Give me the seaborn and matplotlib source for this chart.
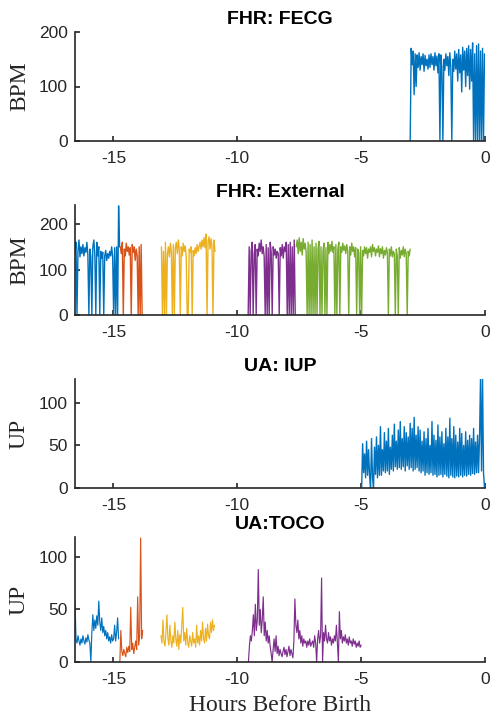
import numpy as np
import matplotlib
matplotlib.use("Agg")
import matplotlib.pyplot as plt
import seaborn as sns

# ---- time spans (hours before birth) and sampled values ----
hour_ticks = [-15, -10, -5, 0]
hour_limits = (-16.55, 0.0)

# FHR from fetal ECG
fecg_hours = (-3.02, -0.02)
fecg_bpm = [0, 170, 140, 165, 85, 160, 100, 158, 135, 162,
            130, 155, 140, 160, 128, 157, 138, 150, 132, 158,
            135, 160, 140, 155, 130, 162, 138, 156, 125, 160,
            0, 158, 135, 0, 150, 130, 160, 138, 155, 120,
            162, 135, 0, 150, 128, 165, 132, 160, 110, 168,
            125, 158, 90, 172, 130, 165, 100, 170, 120, 175,
            95, 168, 110, 180, 0, 160, 0, 175, 0, 178,
            0, 165, 0, 170, 0, 160]

# FHR from external transducer, five recording blocks
ext_hours_1 = (-16.55, -14.75)
ext_bpm_1 = [135, 160, 0, 140, 165, 128, 150, 135, 155, 130,
             148, 138, 160, 132, 0, 145, 128, 0, 150, 165,
             135, 0, 160, 130, 150, 0, 140, 125, 138, 0,
             130, 142, 120, 135, 125, 140, 130, 150, 128, 0,
             148, 0, 150, 0, 240, 150]
ext_hours_2 = (-14.72, -13.84)
ext_bpm_2 = [150, 135, 160, 0, 145, 130, 158, 140, 150, 132,
             148, 0, 155, 138, 150, 120, 145, 130, 0, 150,
             0, 155, 0]
ext_hours_3 = (-13.06, -10.90)
ext_bpm_3 = [150, 0, 140, 0, 160, 0, 135, 150, 128, 158,
             140, 0, 155, 0, 148, 160, 135, 165, 145, 0,
             150, 130, 158, 140, 152, 128, 0, 0, 145, 138,
             150, 0, 142, 130, 148, 135, 155, 140, 150, 160,
             145, 165, 150, 170, 148, 178, 0, 160, 172, 145,
             168, 150, 0, 165, 140]
ext_hours_4 = (-9.56, -7.66)
ext_bpm_4 = [0, 150, 0, 140, 160, 0, 135, 155, 0, 145,
             130, 158, 140, 165, 135, 150, 128, 0, 155, 0,
             148, 0, 160, 138, 0, 150, 132, 145, 125, 140,
             135, 0, 148, 130, 155, 125, 150, 140, 160, 0,
             155, 0, 160, 0, 150, 0, 165, 0]
ext_hours_5 = (-7.62, -3.02)
ext_bpm_5 = [150, 165, 135, 170, 140, 160, 132, 168, 145, 158,
             138, 0, 160, 0, 155, 0, 165, 0, 150, 0,
             158, 0, 145, 162, 0, 150, 0, 140, 158, 0,
             148, 0, 160, 135, 155, 140, 162, 138, 150, 0,
             155, 0, 145, 160, 0, 150, 138, 158, 142, 152,
             135, 155, 140, 0, 150, 132, 158, 140, 150, 128,
             148, 0, 145, 138, 0, 150, 0, 142, 130, 150,
             135, 148, 125, 145, 138, 150, 128, 155, 140, 148,
             130, 145, 138, 152, 128, 146, 135, 150, 125, 142,
             132, 148, 138, 0, 145, 130, 150, 128, 140, 135,
             0, 145, 130, 0, 148, 125, 142, 132, 150, 128,
             145, 135, 0, 140, 130, 145]

# Uterine activity from intrauterine pressure catheter
iup_hours = (-4.98, -0.02)
iup_up = [0, 52, 18, 40, 12, 55, 15, 45, 14, 0,
          58, 12, 0, 48, 16, 60, 12, 50, 15, 72,
          15, 45, 20, 65, 18, 55, 20, 70, 16, 48,
          22, 62, 20, 75, 25, 55, 22, 68, 24, 78,
          22, 58, 25, 72, 20, 65, 26, 60, 22, 76,
          24, 70, 20, 83, 22, 62, 24, 72, 20, 68,
          18, 55, 20, 66, 15, 58, 18, 70, 16, 50,
          18, 78, 15, 62, 16, 56, 13, 74, 15, 60,
          16, 66, 13, 52, 16, 70, 14, 60, 12, 82,
          15, 58, 13, 72, 12, 62, 14, 54, 13, 70,
          15, 64, 13, 50, 15, 66, 14, 56, 16, 62,
          15, 58, 17, 70, 16, 54, 18, 62, 18, 60,
          130, 20, 130, 18, 0]

# Uterine activity from tocodynamometer, four recording blocks
toco_hours_1 = (-16.55, -14.79)
toco_up_1 = [58, 22, 18, 25, 20, 16, 22, 18, 25, 20,
             17, 23, 19, 26, 21, 18, 0, 28, 45, 30,
             40, 32, 44, 35, 58, 38, 30, 42, 28, 34,
             25, 30, 22, 28, 20, 24, 18, 26, 20, 22,
             35, 20, 28, 42, 22]
toco_hours_2 = (-14.74, -13.82)
toco_up_2 = [0, 30, 10, 6, 12, 8, 5, 14, 9, 15,
             10, 52, 12, 18, 8, 14, 20, 12, 62, 16,
             25, 118, 22, 30]
toco_hours_3 = (-13.08, -10.92)
toco_up_3 = [25, 18, 40, 20, 15, 28, 45, 22, 16, 35,
             20, 14, 25, 18, 38, 22, 15, 30, 12, 26,
             18, 35, 52, 20, 28, 16, 32, 18, 14, 25,
             20, 15, 28, 18, 22, 14, 35, 18, 25, 16,
             30, 20, 38, 22, 18, 32, 20, 36, 25, 22,
             38, 28, 40, 30, 35]
toco_hours_4 = (-9.55, -5.0)
toco_up_4 = [0, 15, 25, 20, 30, 45, 25, 55, 30, 40,
             88, 35, 50, 28, 40, 62, 25, 38, 20, 30,
             18, 25, 15, 8, 0, 12, 22, 10, 25, 8,
             15, 6, 12, 8, 5, 10, 14, 7, 12, 5,
             10, 15, 6, 12, 8, 4, 20, 60, 35, 28,
             40, 22, 30, 18, 25, 15, 22, 18, 20, 14,
             20, 16, 22, 15, 18, 20, 14, 25, 18, 0,
             22, 30, 18, 25, 80, 0, 28, 20, 35, 22,
             18, 28, 20, 24, 16, 22, 18, 25, 20, 35,
             18, 0, 48, 22, 30, 18, 24, 20, 26, 18,
             22, 16, 24, 18, 20, 15, 22, 17, 20, 14,
             18, 15, 20, 14, 16]

block_colors = ["#0072BD", "#D95319", "#EDB120", "#7E2F8E", "#77AC30"]

# ---- styling ----
sns.set_style("ticks")
ink = "#262626"
plt.rcParams.update({
    "font.family": ["Liberation Sans", "DejaVu Sans"],
    "axes.edgecolor": ink,
    "axes.linewidth": 1.2,
    "xtick.color": ink,
    "ytick.color": ink,
    "xtick.direction": "in",
    "ytick.direction": "in",
    "xtick.major.size": 3.5,
    "ytick.major.size": 3.5,
    "xtick.major.width": 1.2,
    "ytick.major.width": 1.2,
    "xtick.labelsize": 12.5,
    "ytick.labelsize": 12.5,
    "xtick.major.pad": 7,
    "ytick.major.pad": 5,
})

fig = plt.figure(figsize=(4.9, 7.19), dpi=100)
left, width = 75 / 490, 410 / 490
panel_rects = [
    [left, 1 - 141 / 719, width, 109 / 719],
    [left, 1 - 315 / 719, width, 110 / 719],
    [left, 1 - 488 / 719, width, 109 / 719],
    [left, 1 - 662 / 719, width, 125 / 719],
]
axes = [fig.add_axes(r) for r in panel_rects]


def draw_block(ax, span, values, color, lw):
    hours = np.linspace(span[0], span[1], len(values))
    sns.lineplot(x=hours, y=values, ax=ax, color=color, linewidth=lw,
                 estimator=None, sort=False, legend=False)


draw_block(axes[0], fecg_hours, fecg_bpm, block_colors[0], 1.0)

ext_blocks = [(ext_hours_1, ext_bpm_1), (ext_hours_2, ext_bpm_2),
              (ext_hours_3, ext_bpm_3), (ext_hours_4, ext_bpm_4),
              (ext_hours_5, ext_bpm_5)]
for (span, vals), col in zip(ext_blocks, block_colors):
    draw_block(axes[1], span, vals, col, 1.0)

draw_block(axes[2], iup_hours, iup_up, block_colors[0], 1.0)

toco_blocks = [(toco_hours_1, toco_up_1), (toco_hours_2, toco_up_2),
               (toco_hours_3, toco_up_3), (toco_hours_4, toco_up_4)]
for (span, vals), col in zip(toco_blocks, block_colors):
    draw_block(axes[3], span, vals, col, 0.85)

titles = ["FHR: FECG", "FHR: External", "UA: IUP", "UA:TOCO"]
ylabels = ["BPM", "BPM", "UP", "UP"]
ylims = [(0, 200), (0, 242), (0, 128), (0, 119)]
yticks = [[0, 100, 200], [0, 100, 200], [0, 50, 100], [0, 50, 100]]

for ax, title, ylab, ylim, yt in zip(axes, titles, ylabels, ylims, yticks):
    ax.set_xlim(*hour_limits)
    ax.set_ylim(*ylim)
    ax.set_xticks(hour_ticks)
    ax.set_xticklabels([str(t) for t in hour_ticks])
    ax.set_yticks(yt)
    ax.set_title(title, fontsize=14, fontweight="bold", color="black", pad=6)
    ax.set_ylabel(ylab, fontsize=17, family=["Liberation Serif", "DejaVu Serif"], color=ink)
    ax.yaxis.set_label_coords(-0.11, 0.5)
    ax.set_xlabel("")
    sns.despine(ax=ax)

axes[3].set_xlabel("Hours Before Birth", fontsize=17,
                   family=["Liberation Serif", "DejaVu Serif"], color=ink, labelpad=6)

fig.savefig("out.png", dpi=100)
